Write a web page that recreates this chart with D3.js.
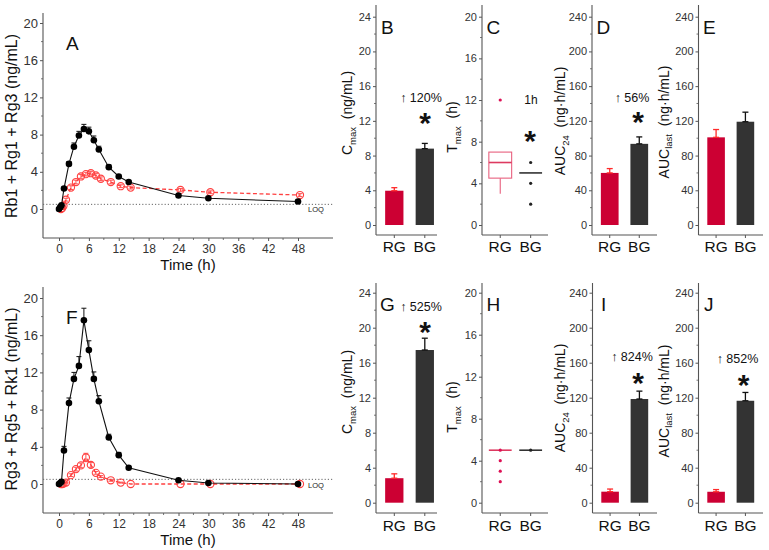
<!DOCTYPE html>
<html><head><meta charset="utf-8">
<script src="https://cdn.jsdelivr.net/npm/d3@7"></script>
<style>body{margin:0;background:#fff}svg{display:block}</style>
</head><body><svg id="c" width="769" height="550"></svg>
<script>
// ---------------- DATA ----------------
const times = [0, 0.25, 0.5, 1, 2, 3, 4, 5, 6, 7, 8, 10, 12, 14, 24, 30, 48];
const xTicks = [0, 6, 12, 18, 24, 30, 36, 42, 48];
const lineYTicks = [0, 4, 8, 12, 16, 20];
const LOQ = 0.5;
// Panel A (Rb1 + Rg1 + Rg3)
const A_BG    = [0, 0.2, 0.4, 2.2, 4.85, 6.7, 7.9, 8.6, 8.35, 7.4, 6.4, 4.5, 3.5, 2.9, 1.45, 1.15, 0.8];
const A_BGerr = [0, 0.05, 0.1, 0.15, 0.25, 0.4, 0.45, 0.5, 0.45, 0.45, 0.35, 0.25, 0.15, 0.15, 0.1, 0.1, 0.1];
const A_RG    = [0, 0.1, 0.35, 1.0, 2.3, 2.9, 3.5, 3.75, 3.85, 3.6, 3.25, 2.9, 2.45, 2.3, 2.05, 1.8, 1.5];
const A_RGerr = [0, 0.05, 0.05, 0.15, 0.2, 0.2, 0.2, 0.2, 0.2, 0.2, 0.2, 0.2, 0.15, 0.15, 0.15, 0.15, 0.15];
// Panel F (Rg3 + Rg5 + Rk1)
const F_BG    = [0, 0.1, 0.25, 3.6, 8.7, 11.3, 12.7, 17.6, 14.4, 11.3, 8.9, 5.0, 3.1, 1.75, 0.4, 0.1, 0];
const F_BGerr = [0, 0.05, 0.1, 0.45, 0.55, 0.7, 1.0, 1.3, 1.0, 0.75, 0.6, 0.35, 0.3, 0.15, 0.1, 0.05, 0];
const F_RG    = [0, 0, 0.05, 0.15, 0.95, 1.6, 2.0, 2.85, 2.05, 1.2, 0.8, 0.4, 0.15, 0, 0, 0, 0];
const F_RGerr = [0, 0, 0, 0.05, 0.15, 0.2, 0.25, 0.45, 0.25, 0.15, 0.1, 0.1, 0.05, 0, 0, 0, 0];

const groups = ["RG", "BG"];
const cmaxTicks = [0, 4, 8, 12, 16, 20, 24];
const tmaxTicks = [0, 4, 8, 12, 16, 20];
const aucTicks = [0, 40, 80, 120, 160, 200, 240];
// Top row
const B_cmax = [3.95, 8.8],  B_err = [0.35, 0.6];
const D_auc24 = [60, 93.5],  D_err = [5, 8];
const E_aucLast = [101, 119], E_err = [9, 11];
// Tmax box stats: [lowWhisker, q1, median, q3, highWhisker]
const C_RGstats = [3, 4.5, 6, 7, 7],  C_RGpts = [12];
const C_BGstats = [5, 5, 5, 5, 5],    C_BGpts = [6, 4, 2];
// Bottom row
const G_cmax = [2.8, 17.45], G_err = [0.5, 1.35];
const I_auc24 = [12.6, 118.5], I_err = [3, 9];
const J_aucLast = [12.5, 116.5], J_err = [2.5, 9.5];
const H_RGstats = [5, 5, 5, 5, 5], H_RGpts = [5, 4, 3, 2];
const H_BGstats = [5, 5, 5, 5, 5], H_BGpts = [5];

const annB = "\u2191 120%", annD = "\u2191 56%", annG = "\u2191 525%", annI = "\u2191 824%", annJ = "\u2191 852%", annC = "1h";

// ---------------- STYLE ----------------
const FONT = "'Liberation Sans', Arial, Helvetica, sans-serif";
const AX = "#555", LBL = "#333";
const RED_BAR = "#cc0033", DARK_BAR = "#333333", RED_ERR = "#ff2a2a";
const RED_LINE = "#ff4040";
const BOX_RED = "#e8607e", BOX_RED_MED = "#dd3a60";

const svg = d3.select("#c");

function txt(g, x, y, s, size, opts = {}) {
  return g.append("text").attr("x", x).attr("y", y).text(s)
    .attr("font-family", FONT).attr("font-size", size)
    .attr("fill", opts.fill || "#111")
    .attr("font-weight", opts.weight || "normal")
    .attr("text-anchor", opts.anchor || "start");
}

function yTitle(g, cx, cy, parts, size) {
  const t = g.append("text").attr("transform", `translate(${cx},${cy}) rotate(-90)`)
    .attr("text-anchor", "middle").attr("dy", "0.35em")
    .attr("font-family", FONT).attr("font-size", size).attr("fill", "#111");
  parts.forEach(p => {
    if (p.sub) t.append("tspan").attr("font-size", size * 0.68).attr("dy", size * 0.25).text(p.t);
    else t.append("tspan").attr("dy", p.after ? -size * 0.25 : 0).text(p.t);
  });
}

function yAxis(g, y, x, yTop, yBot, major, fs) {
  g.append("line").attr("x1", x).attr("x2", x).attr("y1", yTop).attr("y2", yBot)
    .attr("stroke", AX).attr("stroke-width", 1.1);
  const ga = g.append("g").attr("transform", `translate(${x},0)`)
    .call(d3.axisLeft(y).tickValues(major).tickSize(3).tickPadding(2));
  ga.select(".domain").remove();
  ga.attr("font-family", FONT).attr("font-size", fs);
  ga.selectAll("text").attr("fill", LBL);
  ga.selectAll("line").attr("stroke", AX);
  const step = major[1] - major[0];
  const minor = major.slice(0, -1).map(v => v + step / 2);
  g.selectAll(null).data(minor).enter().append("line")
    .attr("x1", x - 2).attr("x2", x).attr("y1", d => y(d)).attr("y2", d => y(d))
    .attr("stroke", AX).attr("stroke-width", 0.8);
}

// ---------------- LINE PANELS ----------------
function linePanel(L, bg, bgErr, rg, rgErr) {
  const g = svg.append("g");
  const x = d3.scaleLinear().domain([0, 48]).range([L.xl0, L.xl48]);
  const y = d3.scaleLinear().domain([0, 20]).range([L.y0, L.y20]);
  yAxis(g, y, L.axL, L.axTop, L.axBot, lineYTicks, 13);
  g.append("line").attr("x1", L.axL).attr("x2", L.axR).attr("y1", L.axBot).attr("y2", L.axBot)
    .attr("stroke", AX).attr("stroke-width", 1.1);
  const gx = g.append("g").attr("transform", `translate(0,${L.axBot})`)
    .call(d3.axisBottom(x).tickValues(xTicks).tickSize(3).tickPadding(3));
  gx.select(".domain").remove();
  gx.attr("font-family", FONT).attr("font-size", 12);
  gx.selectAll("text").attr("fill", LBL);
  gx.selectAll("line").attr("stroke", AX);
  g.selectAll(null).data(xTicks.slice(0, -1).map(v => v + 3)).enter().append("line")
    .attr("x1", d => x(d)).attr("x2", d => x(d)).attr("y1", L.axBot).attr("y2", L.axBot + 2)
    .attr("stroke", AX).attr("stroke-width", 0.8);
  g.append("line").attr("x1", L.axL).attr("x2", L.axR).attr("y1", y(LOQ)).attr("y2", y(LOQ))
    .attr("stroke", "#666").attr("stroke-width", 1).attr("stroke-dasharray", "1.2,2");
  txt(g, L.loqX, L.loqY, "LOQ", 7.5, { fill: "#222" });

  const dodge = 0.4;
  const rgD = times.map((t, i) => ({ t: t + dodge, v: rg[i], e: rgErr[i] }));
  const bgD = times.map((t, i) => ({ t, v: bg[i], e: bgErr[i] }));
  const line = d3.line().x(d => x(d.t)).y(d => y(d.v));
  g.append("path").datum(rgD).attr("d", line).attr("fill", "none")
    .attr("stroke", RED_LINE).attr("stroke-width", 1.3).attr("stroke-dasharray", "4,2.5");
  const rE = g.selectAll(null).data(rgD.filter(d => d.e > 0)).enter().append("g").attr("stroke", RED_LINE).attr("stroke-width", 0.9);
  rE.append("line").attr("x1", d => x(d.t)).attr("x2", d => x(d.t)).attr("y1", d => y(d.v - d.e)).attr("y2", d => y(d.v + d.e));
  rE.append("line").attr("x1", d => x(d.t) - 2.5).attr("x2", d => x(d.t) + 2.5).attr("y1", d => y(d.v + d.e)).attr("y2", d => y(d.v + d.e));
  rE.append("line").attr("x1", d => x(d.t) - 2.5).attr("x2", d => x(d.t) + 2.5).attr("y1", d => y(d.v - d.e)).attr("y2", d => y(d.v - d.e));
  g.selectAll(null).data(rgD).enter().append("circle")
    .attr("cx", d => x(d.t)).attr("cy", d => y(d.v)).attr("r", 3.6)
    .attr("fill", "none").attr("stroke", RED_LINE).attr("stroke-width", 1.1);
  g.append("path").datum(bgD).attr("d", line).attr("fill", "none")
    .attr("stroke", "#111").attr("stroke-width", 1.1);
  const bE = g.selectAll(null).data(bgD.filter(d => d.e > 0.08)).enter().append("g").attr("stroke", "#111").attr("stroke-width", 1);
  bE.append("line").attr("x1", d => x(d.t)).attr("x2", d => x(d.t)).attr("y1", d => y(d.v)).attr("y2", d => y(d.v + d.e));
  bE.append("line").attr("x1", d => x(d.t) - 2.5).attr("x2", d => x(d.t) + 2.5).attr("y1", d => y(d.v + d.e)).attr("y2", d => y(d.v + d.e));
  g.selectAll(null).data(bgD).enter().append("circle")
    .attr("cx", d => x(d.t)).attr("cy", d => y(d.v)).attr("r", 3.3).attr("fill", "#000");

  txt(g, (L.axL + L.axR) / 2, L.xTitleY, "Time (h)", 15, { anchor: "middle" });
  yTitle(g, L.yTitleX, L.yTitleY, [{ t: L.yTitle }], 16);
  txt(g, L.letterX, L.letterY, L.letter, 19);
}

// ---------------- BAR / BOX PANELS ----------------
function catPanel(P, ticks, vmax) {
  const g = svg.append("g");
  const x = d3.scaleLinear().domain([0.4, P.xMax]).range([P.axL, P.axR]);
  const y = d3.scaleLinear().domain([0, vmax]).range([P.y0, P.yTopTick]);
  yAxis(g, y, P.axL, P.axTop, P.axBot, ticks, 11);
  g.append("line").attr("x1", P.axL).attr("x2", P.axR).attr("y1", P.axBot).attr("y2", P.axBot)
    .attr("stroke", AX).attr("stroke-width", 1.1);
  groups.forEach((c, i) => {
    g.append("line").attr("x1", x(i + 1)).attr("x2", x(i + 1)).attr("y1", P.axBot).attr("y2", P.axBot + 3).attr("stroke", AX);
    txt(g, x(i + 1), P.catY, c, 15.5, { anchor: "middle" });
  });
  txt(g, P.letterX, P.letterY, P.letter, 19);
  yTitle(g, P.titleX, P.titleY, P.title, 14);
  return { g, x, y };
}

function barPanel(P, ticks, vmax, vals, errs) {
  const { g, x, y } = catPanel(P, ticks, vmax);
  const cols = [RED_BAR, DARK_BAR], ecols = [RED_ERR, "#111"];
  g.selectAll(null).data(vals).enter().append("rect")
    .attr("x", (d, i) => x(i + 1 - 0.3)).attr("width", (d, i) => x(i + 1.3) - x(i + 0.7))
    .attr("y", d => y(d)).attr("height", d => y(0) - y(d))
    .attr("fill", (d, i) => cols[i]);
  vals.forEach((v, i) => {
    const cx = x(i + 1);
    g.append("line").attr("x1", cx).attr("x2", cx).attr("y1", y(v)).attr("y2", y(v + errs[i])).attr("stroke", ecols[i]).attr("stroke-width", 1.3);
    g.append("line").attr("x1", cx - 3).attr("x2", cx + 3).attr("y1", y(v + errs[i])).attr("y2", y(v + errs[i])).attr("stroke", ecols[i]).attr("stroke-width", 1.3);
    g.append("line").attr("x1", cx - 3).attr("x2", cx + 3).attr("y1", y(v)).attr("y2", y(v)).attr("stroke", ecols[i]).attr("stroke-width", 1.3);
  });
  if (P.ann) txt(g, P.annX, P.annY, P.ann, 12.5, { anchor: "middle", fill: "#111" });
  if (P.star) txt(g, P.starX, P.starY, "*", 30, { anchor: "middle", weight: "bold" });
}

function boxPanel(P, ticks, vmax, statsArr, ptsArr) {
  const { g, x, y } = catPanel(P, ticks, vmax);
  const strokes = [BOX_RED, "#333"], meds = [BOX_RED_MED, "#333"], ptc = ["#dd1155", "#222"];
  statsArr.forEach((s, i) => {
    const cx = x(i + 1), hw = (x(i + 1.375) - x(i + 0.625)) / 2;
    if (s[3] > s[1]) {
      g.append("rect").attr("x", cx - hw).attr("width", 2 * hw).attr("y", y(s[3])).attr("height", y(s[1]) - y(s[3]))
        .attr("fill", "none").attr("stroke", strokes[i]).attr("stroke-width", 1.1);
    }
    if (s[0] < s[1]) g.append("line").attr("x1", cx).attr("x2", cx).attr("y1", y(s[1])).attr("y2", y(s[0])).attr("stroke", strokes[i]).attr("stroke-width", 1.1);
    if (s[4] > s[3]) g.append("line").attr("x1", cx).attr("x2", cx).attr("y1", y(s[3])).attr("y2", y(s[4])).attr("stroke", strokes[i]).attr("stroke-width", 1.1);
    g.append("line").attr("x1", cx - hw).attr("x2", cx + hw).attr("y1", y(s[2])).attr("y2", y(s[2])).attr("stroke", meds[i]).attr("stroke-width", 1.6);
    g.selectAll(null).data(ptsArr[i]).enter().append("circle")
      .attr("cx", cx).attr("cy", d => y(d)).attr("r", 1.6).attr("fill", ptc[i]);
  });
  if (P.ann) txt(g, P.annX, P.annY, P.ann, 12, { anchor: "middle" });
  if (P.star) txt(g, P.starX, P.starY, "*", 30, { anchor: "middle", weight: "bold" });
}

// ---------------- LAYOUT ----------------
const cmaxT = [{ t: "C" }, { t: "max", sub: true }, { t: "\u00a0\u00a0(ng/mL)", after: true }];
const tmaxT = [{ t: "T" }, { t: "max", sub: true }, { t: "\u00a0\u00a0(h)", after: true }];
const auc24T = [{ t: "AUC" }, { t: "24", sub: true }, { t: "\u00a0\u00a0(ng\u00b7h/mL)", after: true }];
const aucLT = [{ t: "AUC" }, { t: "last", sub: true }, { t: "\u00a0\u00a0(ng\u00b7h/mL)", after: true }];

linePanel({ xl0: 59, xl48: 298, y0: 209, y20: 23, axL: 43, axR: 333, axTop: 13, axBot: 238,
  loqX: 308, loqY: 212, xTitleY: 269.5, yTitleX: 17, yTitleY: 126, yTitle: "Rb1 + Rg1 + Rg3 (ng/mL)",
  letter: "A", letterX: 66, letterY: 50 }, A_BG, A_BGerr, A_RG, A_RGerr);
linePanel({ xl0: 59, xl48: 298, y0: 484, y20: 298, axL: 43, axR: 333, axTop: 287, axBot: 513,
  loqX: 308, loqY: 488, xTitleY: 544.5, yTitleX: 17, yTitleY: 399, yTitle: "Rg3 + Rg5 + Rk1 (ng/mL)",
  letter: "F", letterX: 66, letterY: 324 }, F_BG, F_BGerr, F_RG, F_RGerr);

const rowTop = { y0: 225, yTopTick: 16.7, axTop: 5, axBot: 235, catY: 251.5, letterY: 33.5 };
const rowBot = { y0: 502.7, yTopTick: 292.7, axTop: 283, axBot: 513, catY: 530.5, letterY: 310.5 };

barPanel({ ...rowTop, axL: 376, axR: 437, xMax: 2.4, letter: "B", letterX: 381, titleX: 352, titleY: 113, title: cmaxT,
  ann: annB, annX: 421, annY: 101.5, star: true, starX: 425, starY: 133 }, cmaxTicks, 24, B_cmax, B_err);
boxPanel({ ...rowTop, axL: 482, axR: 548, xMax: 2.57, letter: "C", letterX: 486.5, titleX: 457, titleY: 127, title: tmaxT,
  ann: annC, annX: 531, annY: 104, star: true, starX: 530, starY: 151 }, tmaxTicks, 20, [C_RGstats, C_BGstats], [C_RGpts, C_BGpts]);
barPanel({ ...rowTop, axL: 592, axR: 657, xMax: 2.6, letter: "D", letterX: 596.5, titleX: 565, titleY: 121, title: auc24T,
  ann: annD, annX: 632, annY: 101.5, star: true, starX: 638, starY: 132 }, aucTicks, 240, D_auc24, D_err);
barPanel({ ...rowTop, axL: 698.5, axR: 763, xMax: 2.6, letter: "E", letterX: 703, titleX: 668.5, titleY: 122, title: aucLT
  }, aucTicks, 240, E_aucLast, E_err);

barPanel({ ...rowBot, axL: 376, axR: 437, xMax: 2.4, letter: "G", letterX: 380, titleX: 352, titleY: 392, title: cmaxT,
  ann: annG, annX: 421, annY: 310.5, star: true, starX: 425, starY: 342 }, cmaxTicks, 24, G_cmax, G_err);
boxPanel({ ...rowBot, axL: 482, axR: 548, xMax: 2.57, letter: "H", letterX: 486.5, titleX: 457, titleY: 407, title: tmaxT
  }, tmaxTicks, 20, [H_RGstats, H_BGstats], [H_RGpts, H_BGpts]);
barPanel({ ...rowBot, axL: 592.5, axR: 657, xMax: 2.6, letter: "I", letterX: 601, titleX: 565, titleY: 398, title: auc24T,
  ann: annI, annX: 632, annY: 360.5, star: true, starX: 638, starY: 393 }, aucTicks, 240, I_auc24, I_err);
barPanel({ ...rowBot, axL: 698.5, axR: 763, xMax: 2.6, letter: "J", letterX: 704, titleX: 668.5, titleY: 401, title: aucLT,
  ann: annJ, annX: 737.5, annY: 363, star: true, starX: 743.5, starY: 395 }, aucTicks, 240, J_aucLast, J_err);
</script></body></html>
